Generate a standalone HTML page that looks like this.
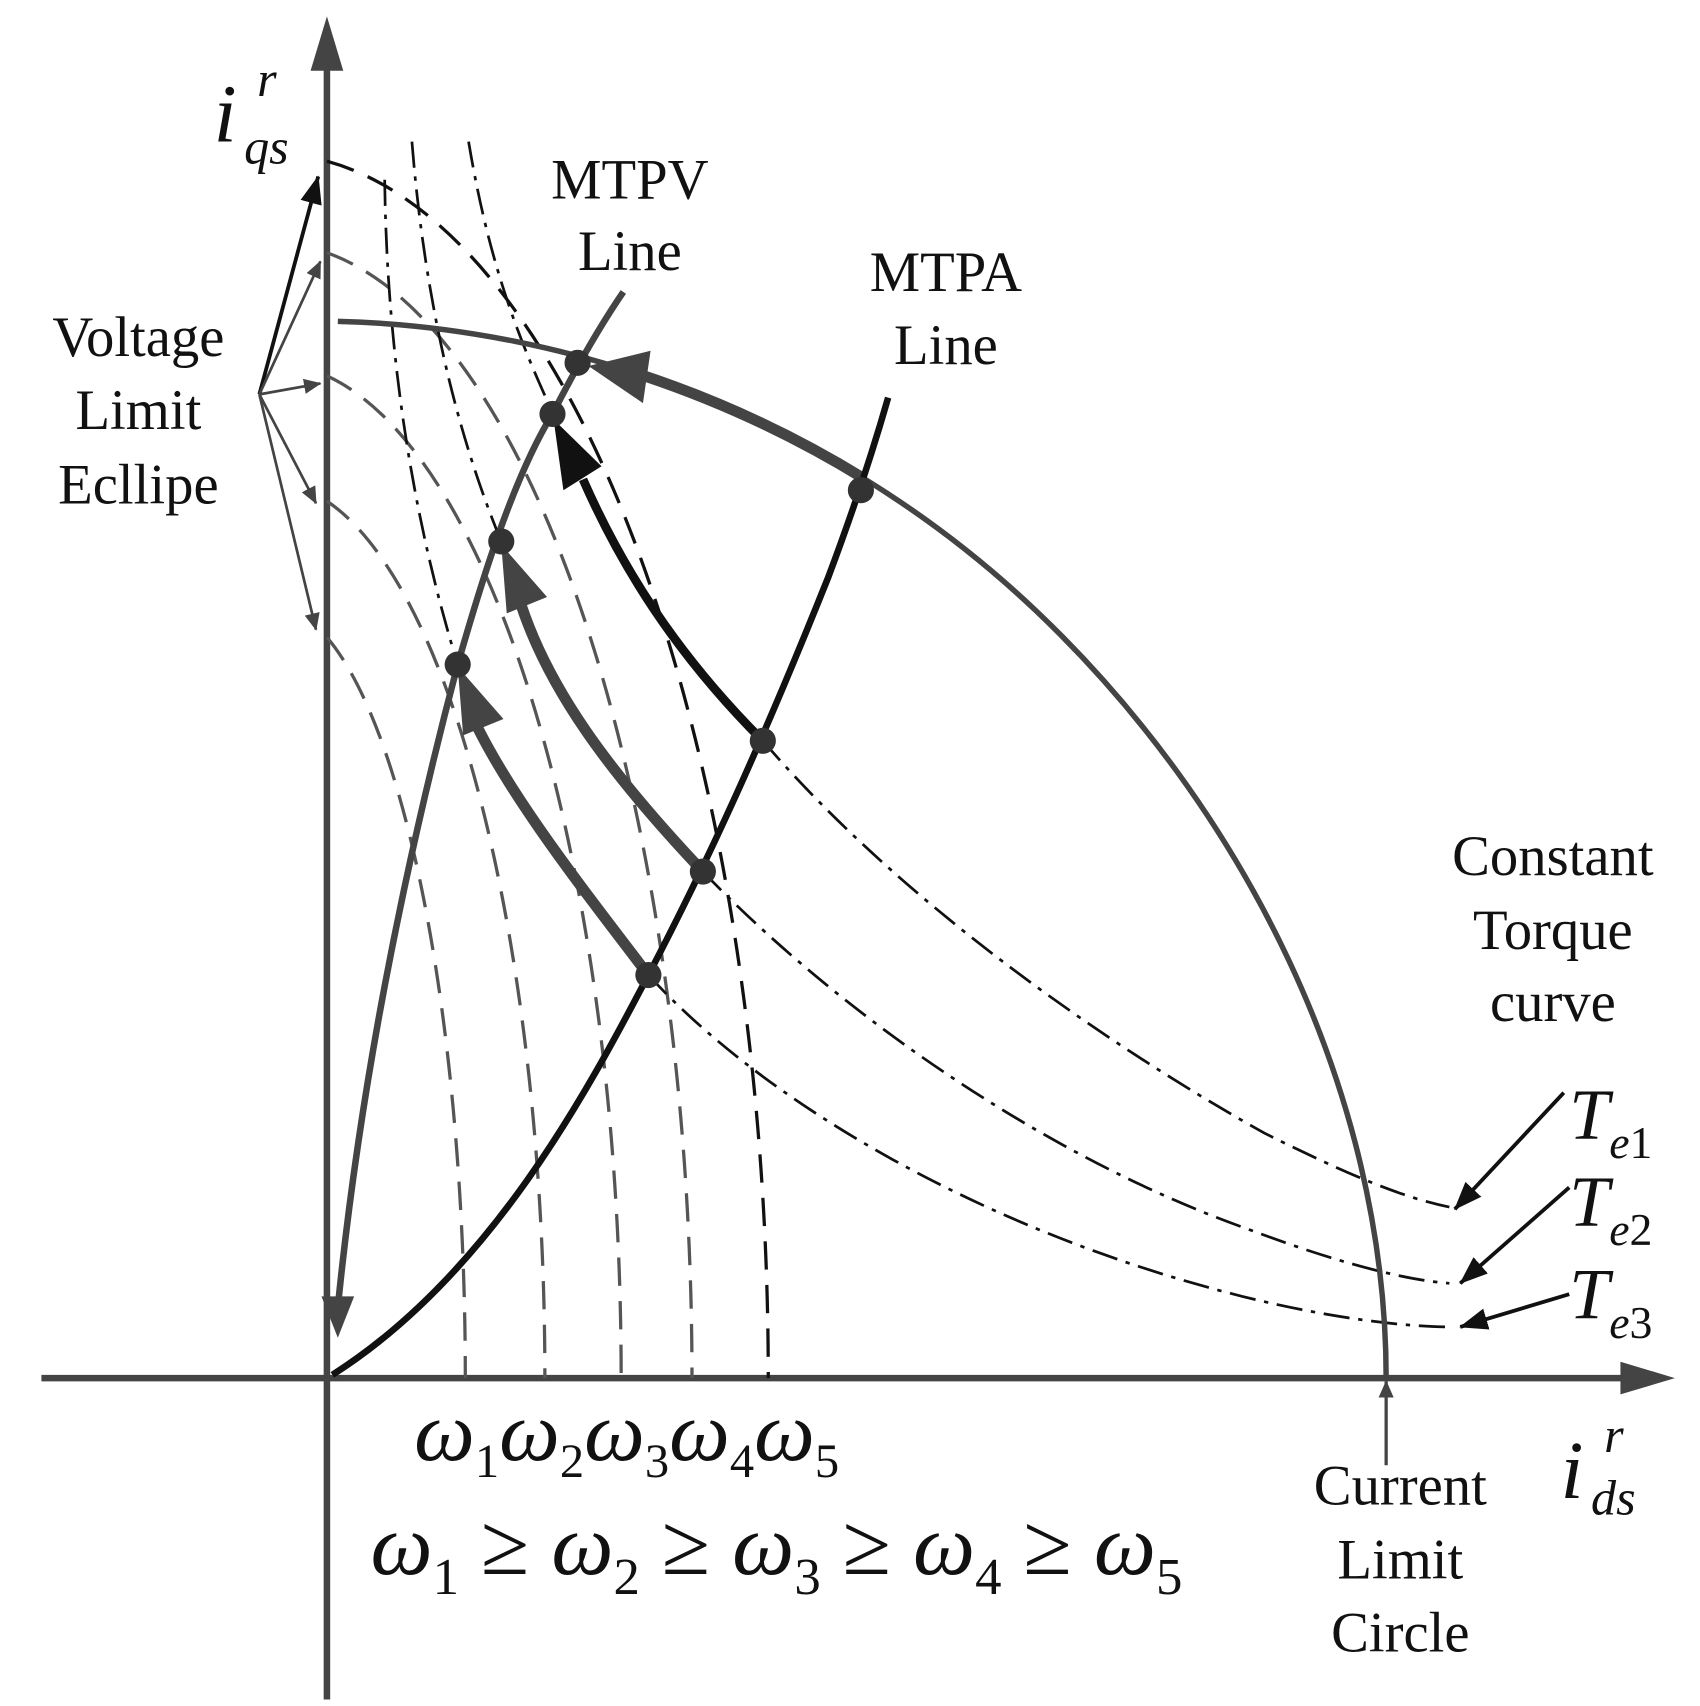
<!DOCTYPE html>
<html><head><meta charset="utf-8"><style>
html,body{margin:0;padding:0;background:#fff;}
svg{display:block;}
text{font-family:"Liberation Serif","DejaVu Serif",serif;fill:#111;}
</style></head><body>
<svg width="1700" height="1706" viewBox="0 0 1560 1566" preserveAspectRatio="none" xmlns="http://www.w3.org/2000/svg">
<defs>
<marker id="ah" markerWidth="16" markerHeight="14" refX="15" refY="7" orient="auto" markerUnits="userSpaceOnUse" viewBox="0 0 16 14"><path d="M0,0 L16,7 L0,14 z" fill="#444"/></marker>
<marker id="ahb" markerWidth="26" markerHeight="20" refX="25" refY="10" orient="auto" markerUnits="userSpaceOnUse" viewBox="0 0 26 20"><path d="M0,0 L26,10 L0,20 z" fill="#111"/></marker>
</defs>
<!-- axes -->
<line x1="300" y1="1560" x2="300" y2="60" stroke="#444" stroke-width="6"/>
<polygon points="300,15 285,65 315,65" fill="#444"/>
<line x1="38" y1="1265" x2="1490" y2="1265" stroke="#444" stroke-width="6"/>
<polygon points="1537,1265 1487,1250 1487,1280" fill="#444"/>

<!-- voltage ellipses -->
<g fill="none" stroke-dasharray="26,14" stroke-width="3">
<path d="M300,148 A455,1124 0 0 1 705,1265" stroke="#111"/>
<path d="M300,232 A385,1042 0 0 1 635,1265" stroke="#555"/>
<path d="M300,345 A320,931 0 0 1 570,1265" stroke="#555"/>
<path d="M300,460 A250,821 0 0 1 500,1265" stroke="#555"/>
<path d="M300,585 A177,709 0 0 1 427,1265" stroke="#555"/>
</g>
<!-- constant torque curves -->
<g fill="none" stroke="#111" stroke-width="2.5" stroke-dasharray="24,8,4,8">
<path d="M353,165 C355,330 380,480 420,610"/>
<path d="M378,130 C390,280 420,400 460,497"/>
<path d="M430,130 C450,250 480,320 510,385"/>
<path d="M595,895 C700,1010 900,1130 1140,1190 C1220,1210 1290,1218 1330,1218"/>
<path d="M645,800 C760,920 950,1060 1150,1130 C1230,1160 1290,1175 1330,1178"/>
<path d="M700,680 C820,820 1000,950 1160,1040 C1240,1080 1290,1100 1330,1108"/>
</g>
<!-- current limit circle -->
<path d="M310,295 C520,300 760,380 950,560 C1140,740 1272,1000 1272,1265" fill="none" stroke="#444" stroke-width="5"/>
<path d="M310,295 C520,300 760,380 950,560" fill="none" stroke="#444" stroke-width="10" stroke-dasharray="0 265 245 3000"/>
<polygon points="540,336 597,322 590,370" fill="#444"/>
<!-- MTPV -->
<path d="M310,1200 C330,1000 370,800 420,610 C440,540 470,440 507,380 C530,335 550,300 572,268" fill="none" stroke="#444" stroke-width="6"/>
<polygon points="310,1228 295,1190 325,1190" fill="#444"/>
<!-- MTPA -->
<path d="M305,1262 C450,1170 540,1000 595,895 C650,790 700,680 760,530 C790,450 805,400 815,365" fill="none" stroke="#111" stroke-width="6"/>
<!-- torque trajectory arrows -->
<path d="M595,895 C530,810 460,720 430,650" fill="none" stroke="#444" stroke-width="10"/>
<polygon points="420,612 462,660 425,675" fill="#444"/>
<path d="M645,800 C560,710 500,630 475,545" fill="none" stroke="#444" stroke-width="10"/>
<polygon points="460,500 502,548 465,563" fill="#444"/>
<path d="M700,680 C620,600 570,520 535,440" fill="none" stroke="#111" stroke-width="8"/>
<polygon points="508,385 552,428 517,450" fill="#111"/>
<!-- dots -->
<g fill="#333">
<circle cx="530" cy="333" r="12"/><circle cx="507" cy="380" r="12"/>
<circle cx="460" cy="497" r="12"/><circle cx="420" cy="610" r="12"/>
<circle cx="790" cy="450" r="12"/><circle cx="700" cy="680" r="12"/>
<circle cx="645" cy="800" r="12"/><circle cx="595" cy="895" r="12"/>
</g>
<!-- voltage limit arrows -->
<line x1="238" y1="362" x2="292" y2="162" stroke="#111" stroke-width="3.5" marker-end="url(#ahb)"/>
<g stroke="#444" stroke-width="2.5" marker-end="url(#ah)">
<line x1="238" y1="362" x2="294" y2="240"/>
<line x1="238" y1="362" x2="294" y2="352"/>
<line x1="238" y1="362" x2="290" y2="462"/>
<line x1="238" y1="362" x2="290" y2="578"/>
</g>
<!-- Te arrows -->
<g stroke="#111" stroke-width="3.5" marker-end="url(#ahb)">
<line x1="1435" y1="1003" x2="1335" y2="1110"/>
<line x1="1440" y1="1090" x2="1340" y2="1178"/>
<line x1="1440" y1="1188" x2="1340" y2="1218"/>
</g>
<line x1="1272" y1="1345" x2="1272" y2="1268" stroke="#444" stroke-width="3" marker-end="url(#ah)"/>

<!-- text -->
<g font-size="52" text-anchor="middle">
<text x="127" y="327">Voltage</text>
<text x="127" y="394">Limit</text>
<text x="127" y="462">Ecllipe</text>
<text x="578" y="182">MTPV</text>
<text x="578" y="248">Line</text>
<text x="868" y="267">MTPA</text>
<text x="868" y="334">Line</text>
<text x="1425" y="803">Constant</text>
<text x="1425" y="871">Torque</text>
<text x="1425" y="937">curve</text>
<text x="1285" y="1381">Current</text>
<text x="1285" y="1449">Limit</text>
<text x="1285" y="1516">Circle</text>
</g>
<g font-style="italic">
<text x="1440" y="1045" font-size="66">T<tspan font-size="42" dy="18">e</tspan><tspan font-style="normal" font-size="42">1</tspan></text>
<text x="1440" y="1125" font-size="66">T<tspan font-size="42" dy="18">e</tspan><tspan font-style="normal" font-size="42">2</tspan></text>
<text x="1440" y="1210" font-size="66">T<tspan font-size="42" dy="18">e</tspan><tspan font-style="normal" font-size="42">3</tspan></text>
<text x="196" y="130" font-size="76">i</text>
<text x="236" y="88" font-size="46">r</text>
<text x="224" y="150" font-size="46">qs</text>
<text x="1432" y="1375" font-size="76">i</text>
<text x="1472" y="1333" font-size="46">r</text>
<text x="1460" y="1390" font-size="46">ds</text>
<text x="380" y="1340" font-size="78" textLength="390" lengthAdjust="spacingAndGlyphs">ω<tspan font-style="normal" font-size="44" dy="16">1</tspan><tspan dy="-16">ω</tspan><tspan font-style="normal" font-size="44" dy="16">2</tspan><tspan dy="-16">ω</tspan><tspan font-style="normal" font-size="44" dy="16">3</tspan><tspan dy="-16">ω</tspan><tspan font-style="normal" font-size="44" dy="16">4</tspan><tspan dy="-16">ω</tspan><tspan font-style="normal" font-size="44" dy="16">5</tspan></text>
<text x="340" y="1445" font-size="80" textLength="745" lengthAdjust="spacingAndGlyphs">ω<tspan font-style="normal" font-size="48" dy="18">1</tspan><tspan font-style="normal" dy="-18"> ≥ </tspan>ω<tspan font-style="normal" font-size="48" dy="18">2</tspan><tspan font-style="normal" dy="-18"> ≥ </tspan>ω<tspan font-style="normal" font-size="48" dy="18">3</tspan><tspan font-style="normal" dy="-18"> ≥ </tspan>ω<tspan font-style="normal" font-size="48" dy="18">4</tspan><tspan font-style="normal" dy="-18"> ≥ </tspan>ω<tspan font-style="normal" font-size="48" dy="18">5</tspan></text>
</g>
</svg>
</body></html>
